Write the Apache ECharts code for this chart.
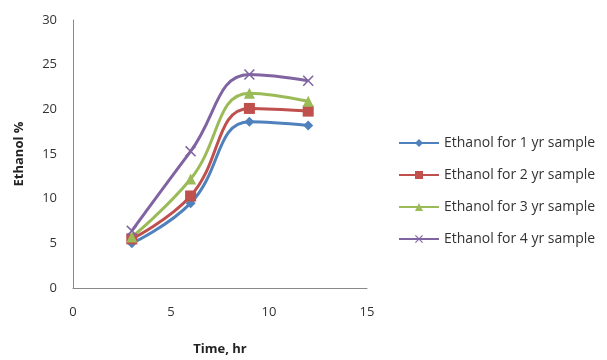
<!DOCTYPE html>
<html>
<head>
<meta charset="utf-8">
<script src="https://cdn.jsdelivr.net/npm/echarts@6/dist/echarts.min.js"></script>
<style>
  html, body { margin: 0; padding: 0; background: #fff; }
  #chart { width: 607px; height: 360px; }
</style>
</head>
<body>
<div id="chart"></div>
<script>
// time points (hr)
const hours = [3, 6, 9, 12]

// ethanol % per sample age
const yr1 = [5.0, 9.5, 18.6, 18.2]
const yr2 = [5.5, 10.3, 20.1, 19.8]
const yr3 = [5.7, 12.2, 21.8, 20.9]
const yr4 = [6.4, 15.3, 23.9, 23.2]

const seriesNames = [
  'Ethanol for 1 yr sample',
  'Ethanol for 2 yr sample',
  'Ethanol for 3 yr sample',
  'Ethanol for 4 yr sample'
]

const colors = ['#4F81BD', '#C0504D', '#9BBB59', '#8064A2']
const crossPath = 'path://M0,1L1,0L5,4L9,0L10,1L6,5L10,9L9,10L5,6L1,10L0,9L4,5Z'
const symbols = ['diamond', 'rect', 'triangle', crossPath]
const symbolSizes = [10, 11, 11, 11]

const pair = (vals) => hours.map((h, i) => [h, vals[i]])
const allValues = [yr1, yr2, yr3, yr4]

const font = '"Open Sans", Lato, sans-serif'

const chart = echarts.init(document.getElementById('chart'))

chart.setOption({
  animation: false,
  textStyle: { fontFamily: font },
  grid: { left: 73, right: 240, top: 20, bottom: 72, outerBoundsMode: 'none', containLabel: false },
  legend: {
    orient: 'vertical',
    left: 393,
    top: 131,
    itemWidth: 40,
    itemHeight: 10,
    itemGap: 18,
    textStyle: { fontSize: 14, color: '#333', fontFamily: font },
    data: seriesNames
  },
  xAxis: {
    type: 'value',
    min: 0,
    max: 15,
    interval: 5,
    name: 'Time, hr',
    nameLocation: 'middle',
    nameGap: 55,
    nameTextStyle: { fontSize: 13, fontWeight: 'bold', color: '#222' },
    axisLine: { lineStyle: { color: '#898989', width: 1 } },
    axisTick: { show: false },
    splitLine: { show: false },
    axisLabel: { fontSize: 13, color: '#333', margin: 18 }
  },
  yAxis: {
    type: 'value',
    min: 0,
    max: 30,
    interval: 5,
    name: 'Ethanol %',
    nameLocation: 'middle',
    nameGap: 47,
    nameTextStyle: { fontSize: 13, fontWeight: 'bold', color: '#222' },
    axisLine: { show: true, lineStyle: { color: '#898989', width: 1 } },
    axisTick: { show: false },
    splitLine: { show: false },
    axisLabel: { fontSize: 13, color: '#333', margin: 16 }
  },
  series: allValues.map((vals, i) => ({
    name: seriesNames[i],
    type: 'line',
    data: pair(vals),
    smooth: 0.45,
    symbol: symbols[i],
    symbolSize: symbolSizes[i],
    lineStyle: { color: colors[i], width: 3 },
    itemStyle: { color: colors[i] }
  }))
})
</script>
</body>
</html>
